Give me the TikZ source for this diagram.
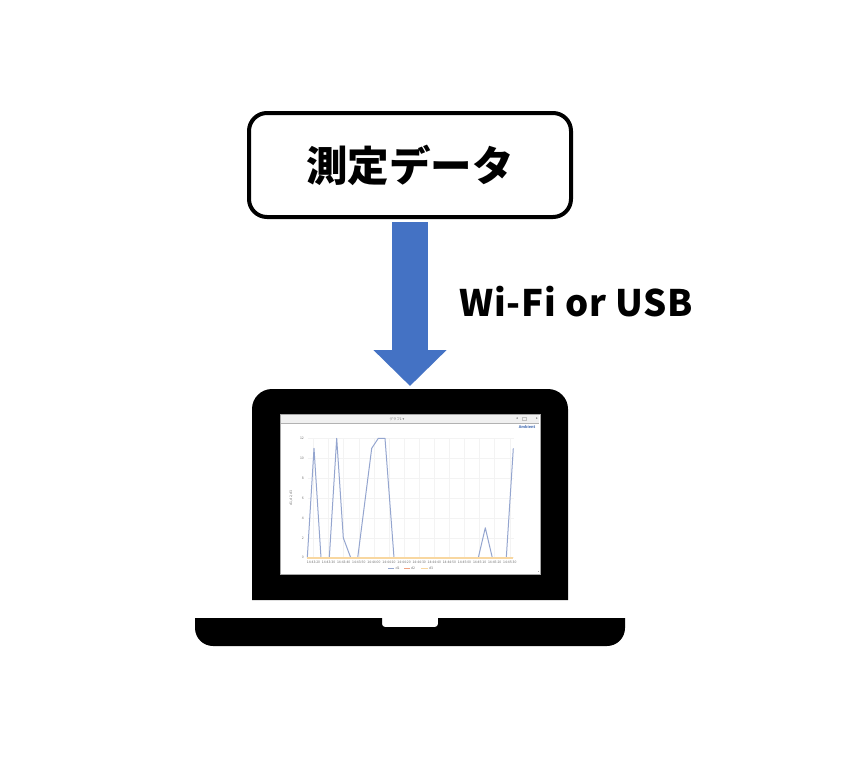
\documentclass[tikz,border=0pt]{standalone}
\usepackage{fontspec}
\newfontfamily\cjk{Noto Sans CJK JP}
\newfontfamily\symf{DejaVu Sans}
\setmainfont{Noto Sans CJK JP}
\newfontfamily\linkf[LetterSpace=2.2]{Noto Sans CJK JP}
\usetikzlibrary{arrows.meta}
\definecolor{arrowblue}{HTML}{4472C4}
\definecolor{serone}{HTML}{94A5CF}
\definecolor{sertwo}{HTML}{F0A080}
\definecolor{serthree}{HTML}{F8D7A0}
\definecolor{gridc}{HTML}{F3F3F3}
\definecolor{labc}{HTML}{707070}
\tikzset{
  databox/.style={draw=black,line width=4pt,rounded corners=18pt,fill=white,minimum width=322pt,minimum height=104pt,inner sep=0pt,font=\cjk\bfseries\fontsize{41.5}{42}\selectfont},
  linklabel/.style={inner sep=0pt,font=\linkf\bfseries\fontsize{36.5}{37}\selectfont},
  bigarrow/.style={line width=36pt,arrowblue,-{Triangle[width=71pt,length=36pt]}},
  tick/.style={inner sep=0pt,text=labc,font=\fontsize{3.4}{4}\selectfont},
  gridl/.style={gridc,line width=0.6pt},
}
\begin{document}
\begin{tikzpicture}[x=1pt,y=-1pt]
\useasboundingbox[fill=white] (0,0) rectangle (859,772);
% box
\node[databox] (data) at (410,165) {測定データ};
% laptop
\fill[black] (252,600) -- (252,409) arc[start angle=180,end angle=270,radius=20] -- (548,389) arc[start angle=270,end angle=360,radius=20] -- (568,600) -- cycle;
\coordinate (lid) at (410,389);
\fill[black] (195,618) -- (382,618) -- (382,624) arc[start angle=180,end angle=90,radius=3] -- (435,627) arc[start angle=90,end angle=0,radius=3] -- (438,618) -- (625,618) -- (625,628) arc[start angle=0,end angle=90,radius=18] -- (213,646) arc[start angle=90,end angle=180,radius=18] -- cycle;
% screen
\fill[white,draw=gray!70,line width=1pt] (280,414.5) rectangle (540,574);
\fill[gray!12] (281,415) rectangle (539,422.5);
\draw[gray!60,line width=0.6pt] (281,423) -- (539,423);
\node[tick] (ttl) at (397,419) {グラフ1 {\symf ▾}};
\node[tick,font=\symf\fontsize{3.5}{4}\selectfont] (prev) at (517,419) {◂};
\draw[gray!50,line width=0.3pt] (522.5,417.5) rectangle (526,420.5);
\node[tick,font=\symf\fontsize{3.5}{4}\selectfont] (next) at (537,419) {▸};
\node[inner sep=0pt,text=arrowblue!80!gray,font=\bfseries\fontsize{3.8}{4}\selectfont] (amb) at (527,427) {Ambient};
% grid
\foreach \v in {0,2,...,12} {
  \draw[gridl] (307.5,557.7-9.95*\v) -- (513.5,557.7-9.95*\v);
  \node[tick,anchor=east] (y\v) at (304,557.7-9.95*\v) {\v};
}
\foreach \x/\t [count=\i from 0] in {313.5/14:43:20,328.6/14:43:30,343.7/14:43:40,358.8/14:43:50,373.9/14:44:00,389/14:44:10,404.1/14:44:20,419.2/14:44:30,434.3/14:44:40,449.4/14:44:50,464.5/14:45:00,479.6/14:45:10,494.7/14:45:20,509.8/14:45:30} {
  \draw[gridl] (\x,438) -- (\x,557.7);
  \node[tick] (x\i) at (\x,562.3) {\t};
}
\node[tick,rotate=90] (axis) at (291,498) {d1, d2, d3};
% series
\draw[serone,line width=1pt,line join=round] (307.3,557.7) -- (314,448.3) -- (321,557.7) -- (329.3,557.7) -- (336.7,438.3) -- (343.3,537.8) -- (350.7,557.7) -- (357.7,557.7) -- (371.7,448.3) -- (378.3,438.3) -- (385,438.3) -- (394,557.7) -- (478.3,557.7) -- (485.3,527.8) -- (492.3,557.7) -- (506.3,557.7) -- (513.3,448.3);
\draw[serthree,line width=1.3pt] (307.3,557.9) -- (513.3,557.9);
% legend
\draw[serone,line width=0.7pt] (388,568) -- (394,568);
\node[tick] (l1) at (397.5,568) {d1};
\draw[sertwo,line width=0.7pt] (404,568) -- (410,568);
\node[tick] (l2) at (413,568) {d2};
\draw[serthree,line width=0.7pt] (421,568) -- (428,568);
\node[tick] (l3) at (431,568) {d3};
\fill[gray!70] (537.5,570.5) rectangle (539,572);
% arrow
\draw[bigarrow] ([yshift=-3pt]data.south) -- ([yshift=3pt]lid);
\node[linklabel,anchor=west] (link) at (459,302) {Wi-Fi or USB};
\end{tikzpicture}
\end{document}
